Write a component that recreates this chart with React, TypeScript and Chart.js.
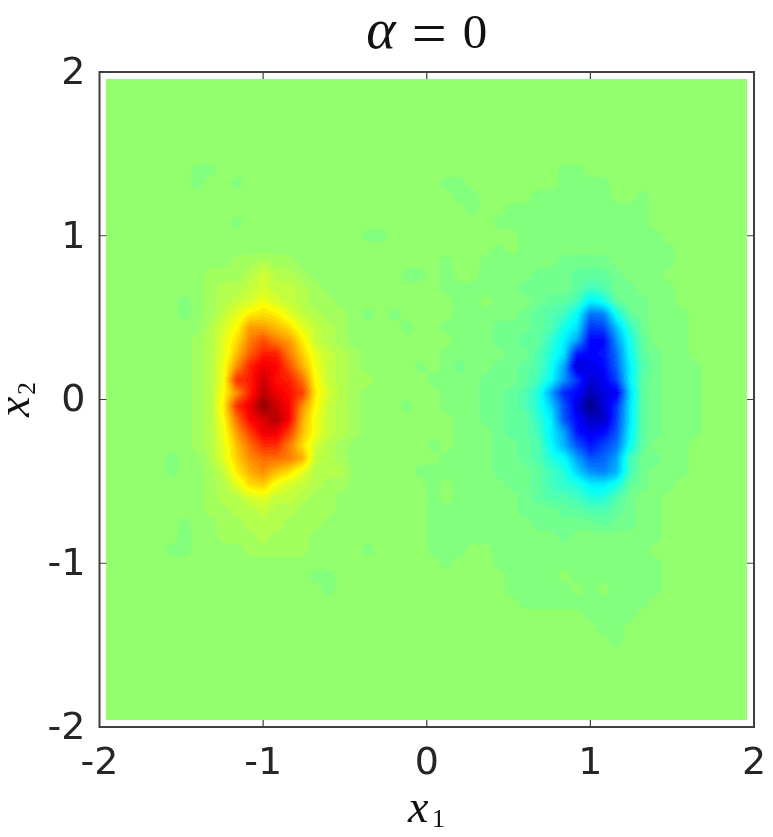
import React, { useEffect, useRef } from "react";
import { Chart, registerables } from "chart.js";

Chart.register(...registerables);

const x1Min = -1.96;
const x2Max = 1.96;
const gridStep = 0.08;
const gridCount = 50;
// values are steps of the 64-colour jet map away from the background colour
const backgroundT = 0.518;

const leftLobeX1 = -1.56;
const leftLobeX2 = 0.84;
const leftLobe = [
  [0,0,0,0,0,1,1,2,1,1,0,0,0,0,0,0],
  [0,0,0,1,1,1,2,4,2,2,1,0,0,0,0,0],
  [0,0,0,1,2,2,3,4,3,3,2,1,0,0,0,0],
  [0,-1,0,1,2,3,4,6,4,3,2,1,1,0,0,0],
  [0,-1,0,1,3,5,8,9,8,5,3,2,1,1,0,-1],
  [0,0,0,2,4,7,13,13,11,9,5,3,2,1,0,0],
  [0,0,1,2,5,9,15,18,15,13,8,3,2,1,0,0],
  [0,0,1,2,5,11,17,21,21,15,10,5,3,2,1,0],
  [0,0,1,2,6,14,21,24,23,18,12,6,3,2,1,0],
  [0,0,1,2,6,20,21,26,22,21,16,7,3,2,1,1],
  [0,0,1,2,7,14,21,27,24,22,19,8,4,2,1,0],
  [0,0,1,2,8,20,24,30,26,23,14,7,3,2,1,0],
  [0,0,1,2,7,16,23,25,28,23,12,6,3,2,1,0],
  [0,0,1,2,6,13,19,24,24,19,11,6,3,2,1,0],
  [0,0,1,2,5,11,16,20,20,15,9,4,2,1,0,0],
  [-1,0,0,2,5,10,14,16,16,15,12,3,2,1,0,0],
  [-1,0,0,1,3,8,12,14,11,9,5,2,2,2,0,0],
  [0,0,0,1,2,5,9,10,6,4,3,2,1,1,0,0],
  [0,0,0,1,2,2,4,5,3,3,2,1,1,0,0,0],
  [0,0,0,1,1,2,2,3,2,2,1,1,1,0,0,0],
  [0,-1,0,0,1,1,2,2,2,1,1,1,0,0,0,0],
  [0,-1,0,0,1,1,1,2,1,1,1,0,0,0,0,0],
  [-1,-1,0,0,0,0,1,1,1,1,1,0,0,0,0,-1],
];

const rightLobeX1 = 0.12;
const rightLobeX2 = 1.4;
const rightLobe = [
  [0,0,0,0,0,0,0,0,0,-1,-1,0,0,0,0,0,0,0,0,0],
  [-1,-1,0,0,0,0,0,0,0,-1,-1,-1,-1,0,0,0,0,0,0,0],
  [0,-1,-1,0,0,0,0,-1,-1,-1,-1,-1,-1,0,0,-1,0,0,0,0],
  [0,0,-1,0,0,-1,-1,-1,-1,-1,-1,-1,-1,-1,-1,-1,0,0,0,0],
  [0,0,0,0,-1,-1,-1,-1,-1,-1,-1,-1,-1,-1,-1,-1,0,0,0,0],
  [0,0,0,0,0,0,-1,-1,-1,-1,-1,-1,-1,-1,-1,-1,-1,0,0,0],
  [0,0,0,0,-1,0,-1,-1,-1,-1,-1,-1,-1,-1,-1,-1,-1,-1,0,0],
  [-1,0,0,-1,-1,-1,-1,-1,-1,-2,-2,-2,-2,-1,-1,-1,-1,-1,0,0],
  [-1,0,0,-1,-1,-1,-1,-2,-2,-2,-3,-3,-3,-2,-1,-1,-1,0,0,0],
  [-1,-1,-1,-1,-1,-1,-2,-2,-2,-2,-3,-5,-4,-2,-2,-1,-1,-1,0,0],
  [0,-1,-1,0,-1,-1,-1,-2,-3,-3,-5,-10,-8,-3,-2,-2,-1,-1,0,0],
  [0,-1,-1,-1,-1,-1,-2,-3,-4,-5,-9,-18,-17,-8,-3,-2,-1,-1,-1,0],
  [-1,-1,-1,-1,-2,-2,-2,-3,-4,-8,-11,-22,-21,-13,-6,-2,-1,-1,-1,0],
  [0,-1,-1,-1,-2,-2,-3,-3,-6,-10,-15,-25,-25,-16,-8,-3,-1,-1,-1,0],
  [-1,-1,-1,-1,-1,-2,-2,-4,-7,-11,-24,-25,-24,-18,-9,-3,-2,-1,-1,0],
  [-1,-2,-1,-1,-2,-2,-3,-4,-8,-15,-28,-26,-25,-19,-10,-4,-2,-1,-1,-1],
  [-1,-1,-1,-2,-2,-2,-3,-5,-9,-16,-22,-28,-26,-21,-10,-3,-2,-1,-1,-1],
  [-1,-1,-1,-2,-2,-3,-4,-7,-15,-23,-25,-30,-27,-26,-12,-3,-2,-1,-1,-1],
  [-1,-1,-1,-2,-2,-3,-4,-7,-12,-20,-27,-33,-28,-22,-11,-3,-2,-1,-1,-1],
  [0,-1,-1,-2,-2,-3,-3,-6,-10,-20,-25,-29,-29,-21,-11,-3,-2,-1,-1,-1],
  [0,-1,-1,-1,-2,-3,-3,-5,-10,-15,-24,-26,-25,-20,-10,-3,-2,-1,-1,-1],
  [0,-1,-1,-1,-2,-2,-3,-4,-9,-14,-20,-24,-21,-18,-9,-3,-1,-1,-1,0],
  [-1,-1,-1,-1,-2,-2,-3,-4,-7,-9,-15,-20,-19,-15,-5,-2,-2,-1,-1,0],
  [-1,-1,-1,-1,-2,-2,-2,-3,-5,-7,-12,-16,-17,-14,-5,-2,-1,-1,-1,0],
  [0,-1,-1,-1,-1,-2,-2,-3,-5,-6,-7,-10,-10,-8,-3,-2,-1,-1,0,0],
  [0,-1,-1,-1,-1,-1,-2,-3,-4,-4,-5,-7,-7,-4,-2,-1,-1,0,0,0],
  [-1,-1,-1,-1,-1,-1,-2,-2,-2,-3,-3,-4,-4,-3,-2,-1,-1,0,0,0],
  [-1,-1,-1,-1,-1,-1,-1,-2,-2,-2,-2,-2,-3,-2,-2,-1,-1,0,0,0],
  [-1,-1,-1,-1,-1,-1,-1,-1,-1,-2,-1,-1,-1,-1,-1,-1,-1,0,0,0],
  [-1,-1,0,0,-1,-1,-1,-1,-1,-1,-1,-1,-1,-1,-1,-1,0,0,0,0],
  [-1,0,0,0,-1,-1,-1,-1,-1,-1,-1,-1,-1,-1,-1,-1,-1,0,0,0],
  [0,0,0,0,0,-1,-1,-1,-1,0,-1,-1,-1,-1,-1,-1,-1,0,0,0],
  [0,0,0,0,0,-1,-1,-1,-1,-1,0,-1,0,-1,-1,-1,-1,0,0,0],
  [0,0,0,0,0,0,-1,-1,-1,-1,-1,-1,-1,-1,-1,-1,0,0,0,0],
  [0,0,0,0,0,0,0,0,0,0,0,-1,-1,-1,-1,0,0,0,0,0],
  [0,0,0,0,0,0,0,0,0,0,0,0,-1,-1,0,0,0,0,0,0],
  [0,0,0,0,0,0,0,0,0,0,0,0,0,-1,0,0,0,0,0,0],
];

const spotX1 = [-1.4,-1.32,-1.4,-1.16,-1.16,-0.36,-0.28,-0.12,-0.04,-0.2,-0.12,-0.04,0.04,-0.12,0.04,-0.04,0.04,0.04,0.04,0.04,0.04,0.04,0.04,-0.6,-0.6,-0.68];
const spotX2 = [1.4,1.4,1.32,1.32,1.08,1.0,1.0,0.76,0.76,0.52,0.44,0.2,0.12,-0.04,-0.28,-0.44,-0.44,-0.52,-0.6,-0.68,-0.76,-0.84,-0.92,-1.16,-1.08,-1.08];
const spotValue = [-1,-1,-1,-1,-1,-1,-1,-1,-1,-1,-1,-1,-1,-1,-1,-1,-1,-1,-1,-1,-1,-1,-1,-1,-1,-1];

const tickValues = [-2, -1, 0, 1, 2];
const titleParts = [
  { text: "α", italic: true, size: 56, dy: 0 },
  { text: "=", italic: false, size: 62, dy: 6 },
  { text: "0", italic: false, size: 49, dy: 0 },
];

function buildGrid(): number[][] {
  const g = Array.from({ length: gridCount }, () => new Array(gridCount).fill(0));
  const col = (x: number) => Math.round((x - x1Min) / gridStep);
  const row = (y: number) => Math.round((x2Max - y) / gridStep);
  const put = (rows: number[][], x0: number, y0: number) =>
    rows.forEach((r, j) => r.forEach((v, i) => { g[row(y0) + j][col(x0) + i] = v; }));
  put(leftLobe, leftLobeX1, leftLobeX2);
  put(rightLobe, rightLobeX1, rightLobeX2);
  spotX1.forEach((x, i) => { g[row(spotX2[i])][col(x)] = spotValue[i]; });
  return g;
}

function jet(t: number): [number, number, number] {
  const c = (v: number) => Math.max(0, Math.min(1, v));
  return [
    255 * c(Math.min(4 * t - 1.5, 4.5 - 4 * t)),
    255 * c(Math.min(4 * t - 0.5, 3.5 - 4 * t)),
    255 * c(Math.min(4 * t + 0.5, 2.5 - 4 * t)),
  ];
}

const labelShiftPlugin = {
  id: "labelShift",
  beforeDraw(chart: any) {
    chart.scales.y.getLabelItems().forEach((item: any) => { item.options.translation[1] += 2; });
  },
};

const heatPlugin = {
  id: "heat",
  beforeDatasetsDraw(chart: any) {
    const { ctx, scales: { x, y } } = chart;
    const g: number[][] = chart.data.datasets[0].grid;
    const L = Math.round(x.getPixelForValue(x1Min));
    const R = Math.round(x.getPixelForValue(-x1Min));
    const T = Math.round(y.getPixelForValue(x2Max));
    const B = Math.round(y.getPixelForValue(-x2Max));
    const off = document.createElement("canvas");
    off.width = R - L;
    off.height = B - T;
    const oc = off.getContext("2d")!;
    const img = oc.createImageData(R - L, B - T);
    let p = 0;
    for (let py = T; py < B; py++) {
      const v2 = (x2Max - y.getValueForPixel(py + 0.5)) / gridStep;
      const j = Math.max(0, Math.min(gridCount - 2, Math.floor(v2)));
      const fy = v2 - j;
      for (let px = L; px < R; px++) {
        const v1 = (x.getValueForPixel(px + 0.5) - x1Min) / gridStep;
        const i = Math.max(0, Math.min(gridCount - 2, Math.floor(v1)));
        const fx = v1 - i;
        const z = (1 - fy) * ((1 - fx) * g[j][i] + fx * g[j][i + 1]) +
          fy * ((1 - fx) * g[j + 1][i] + fx * g[j + 1][i + 1]);
        const [r, gg, b] = jet(backgroundT + Math.round(z) / 64);
        img.data[p++] = r; img.data[p++] = gg; img.data[p++] = b; img.data[p++] = 255;
      }
    }
    oc.putImageData(img, 0, 0);
    ctx.drawImage(off, L, T);
  },
};

const framePlugin = {
  id: "frame",
  afterDraw(chart: any) {
    const { ctx, chartArea: a, scales: { x, y } } = chart;
    ctx.save();
    ctx.strokeStyle = "#404040";
    ctx.lineWidth = 2;
    ctx.strokeRect(a.left, a.top, a.right - a.left, a.bottom - a.top);
    ctx.lineWidth = 1.2;
    ctx.beginPath();
    const len = 7;
    tickValues.slice(1, -1).forEach((v) => {
      const px = x.getPixelForValue(v);
      ctx.moveTo(px, a.top); ctx.lineTo(px, a.top + len);
      ctx.moveTo(px, a.bottom); ctx.lineTo(px, a.bottom - len);
      const py = y.getPixelForValue(v);
      ctx.moveTo(a.left, py); ctx.lineTo(a.left + len, py);
      ctx.moveTo(a.right, py); ctx.lineTo(a.right - len, py);
    });
    ctx.stroke();

    ctx.fillStyle = "#111";
    ctx.textBaseline = "alphabetic";
    ctx.textAlign = "left";
    const lib = '"Liberation Serif"';
    const gap = 16;
    const setPart = (pt: any) => { ctx.font = `${pt.italic ? "italic " : ""}${pt.size}px ${lib}`; };
    let total = 0;
    titleParts.forEach((pt, i) => { setPart(pt); total += ctx.measureText(pt.text).width + (i ? gap : 0); });
    let cx = (a.left + a.right) / 2 - total / 2;
    titleParts.forEach((pt) => { setPart(pt); ctx.fillText(pt.text, cx, 48 + pt.dy); cx += ctx.measureText(pt.text).width + gap; });

    const axisLabel = (sub: string, subDx: number, subDy: number) => {
      ctx.font = `italic 46px ${lib}`;
      ctx.fillText("x", 0, 0);
      ctx.font = `26px ${lib}`;
      ctx.fillText(sub, subDx, subDy);
    };
    ctx.save();
    ctx.translate(408, 822);
    axisLabel("1", 24, 5);
    ctx.restore();
    ctx.save();
    ctx.translate(29, 417);
    ctx.rotate(-Math.PI / 2);
    axisLabel("2", 22, 6);
    ctx.restore();
    ctx.restore();
  },
};

export default function App() {
  const ref = useRef<HTMLCanvasElement>(null);
  useEffect(() => {
    const grid = buildGrid();
    const nodes: any[] = [];
    grid.forEach((r, j) => r.forEach((v, i) => nodes.push({ x: x1Min + i * gridStep, y: x2Max - j * gridStep, z: v })));
    const chart = new Chart(ref.current!, {
      type: "scatter",
      data: { datasets: [{ label: "f(x1, x2)", data: nodes, pointRadius: 0, grid } as any] },
      options: {
        animation: false,
        responsive: false,
        events: [],
        layout: { padding: { top: 72, right: 19, left: 0, bottom: 0 } },
        plugins: { legend: { display: false }, tooltip: { enabled: false } },
        scales: {
          x: {
            type: "linear", min: -2, max: 2,
            afterFit(s: any) { s.height = 110; s.paddingLeft = 0; s.paddingRight = 0; },
            afterBuildTicks(s: any) { s.ticks = tickValues.map((value) => ({ value })); },
            border: { display: false },
            grid: { display: false },
            ticks: { font: { family: "DejaVu Sans", size: 38 }, color: "#262626", maxRotation: 0, padding: 6, autoSkip: false, callback: (v: any) => String(v) },
          },
          y: {
            type: "linear", min: -2, max: 2,
            afterFit(s: any) { s.width = 99.5; s.paddingTop = 0; s.paddingBottom = 0; },
            afterBuildTicks(s: any) { s.ticks = tickValues.map((value) => ({ value })); },
            border: { display: false },
            grid: { display: false },
            ticks: { font: { family: "DejaVu Sans", size: 38 }, color: "#262626", padding: 6, autoSkip: false, callback: (v: any) => String(v) },
          },
        },
      },
      plugins: [labelShiftPlugin, heatPlugin, framePlugin],
    } as any);
    return () => chart.destroy();
  }, []);
  return (
    <div style={{ position: "fixed", left: 0, top: 0, width: 773, height: 837, background: "#fff" }}>
      <canvas ref={ref} width={773} height={837} style={{ display: "block" }} />
    </div>
  );
}
